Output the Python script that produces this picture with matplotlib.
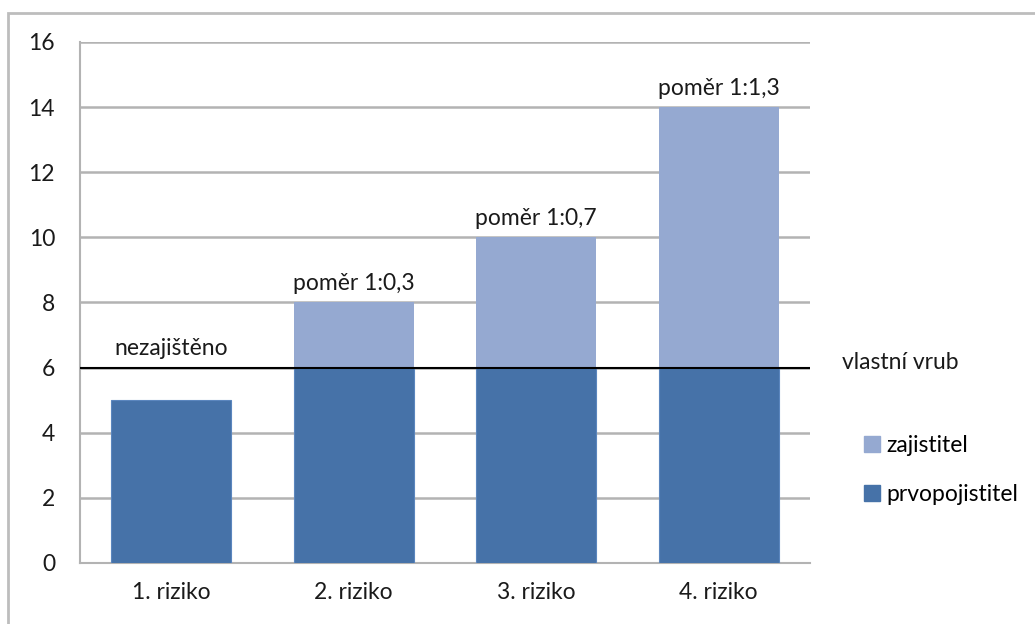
import matplotlib.pyplot as plt
from matplotlib.patches import Rectangle, Patch

plt.rcParams['font.family'] = ['Lato', 'DejaVu Sans']

# data
categories = ["1. riziko", "2. riziko", "3. riziko", "4. riziko"]
prvopojistitel = [5, 6, 6, 6]
zajistitel = [0, 2, 4, 8]
retention = 6
bar_labels = ["nezajištěno", "poměr 1:0,3", "poměr 1:0,7", "poměr 1:1,3"]

dark = "#4672A8"
light = "#95A9D1"
grid = "#B3B3B3"
fs = 16.5

fig = plt.figure(figsize=(10.35, 6.24), dpi=100)
ax = fig.add_axes([0.0773, 0.0978, 0.7053, 0.8349])

x = range(len(categories))
ax.bar(x, prvopojistitel, width=0.66, color=dark, edgecolor="#5B86BE", linewidth=0.8, zorder=3)
ax.bar(x, zajistitel, width=0.66, bottom=prvopojistitel, color=light, zorder=3)
ax.axhline(retention, color="black", lw=1.5, zorder=4)

# labels above bars
for i in x:
    top = prvopojistitel[i] + zajistitel[i]
    y = max(top, retention)
    ax.annotate(bar_labels[i], (i, y), xytext=(0, 6), textcoords="offset points",
                ha="center", va="bottom", fontsize=fs, color="#1a1a1a")

ax.set_xlim(-0.5, 3.5)
ax.set_ylim(0, 16)
ax.set_yticks(range(0, 17, 2))
ax.set_xticks(list(x))
ax.set_xticklabels(categories)
ax.tick_params(axis="both", length=0, labelsize=fs, colors="#1a1a1a")
ax.tick_params(axis="y", pad=18)
ax.tick_params(axis="x", pad=14)
ax.grid(axis="y", color=grid, lw=1.8, zorder=0)
for s in ["top", "right"]:
    ax.spines[s].set_visible(False)
ax.spines["left"].set_color(grid)
ax.spines["bottom"].set_color(grid)
ax.spines["left"].set_linewidth(1.5)
ax.spines["bottom"].set_linewidth(1.5)

fig.text(842 / 1035, 1 - 362 / 624, "vlastní vrub", fontsize=fs, va="center", color="#1a1a1a")

handles = [Patch(color=light, label="zajistitel"), Patch(color=dark, label="prvopojistitel")]
fig.legend(handles=handles, loc="upper left", bbox_to_anchor=(843 / 1035, 1 - 414 / 624),
           frameon=False, fontsize=fs, handlelength=0.7, handleheight=0.7,
           handletextpad=0.3, labelspacing=1.25)

# outer chart frame (top and left edges visible)
fig.add_artist(Rectangle((8 / 1035, -0.1), 1.2, 1 - 13 / 624 + 0.1, transform=fig.transFigure,
                         fill=False, edgecolor="#BDBDBD", lw=2))

fig.savefig("out.png", dpi=100)
